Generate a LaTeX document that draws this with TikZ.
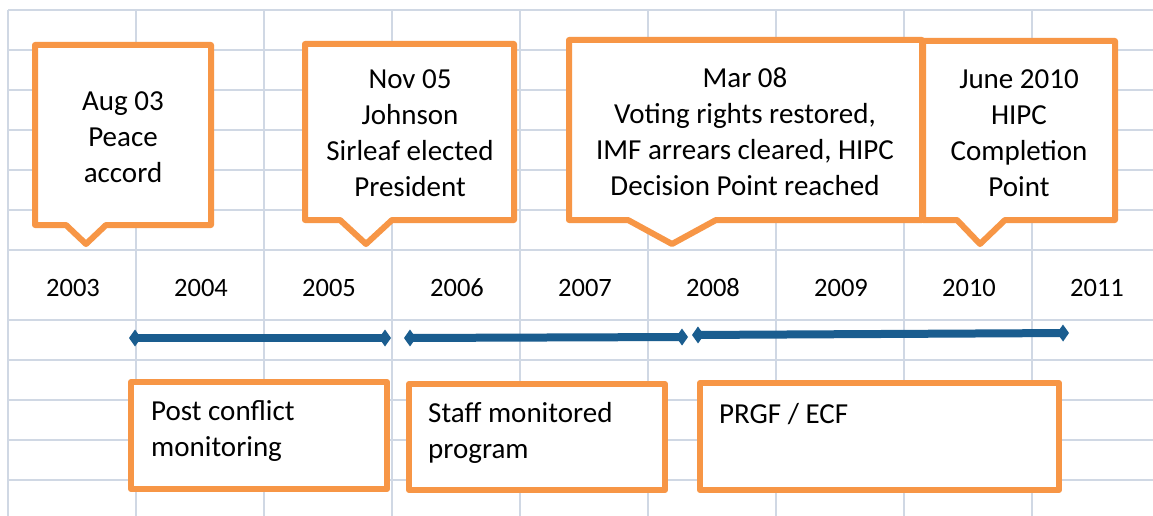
\documentclass[tikz,border=0pt]{standalone}
\usepackage{fontspec}
\setmainfont{Carlito}
\usetikzlibrary{arrows.meta}

\definecolor{gridcol}{HTML}{D0D8E4}
\definecolor{calloutorange}{HTML}{F79646}
\definecolor{spanblue}{HTML}{1A5D8F}

\begin{document}
\begin{tikzpicture}[x=1pt, y=-1pt,
  gridline/.style={gridcol, line width=2pt},
  callout/.style={calloutorange, line width=6pt, line join=round, fill=white},
  span/.style={spanblue, line width=8pt, {Diamond[length=12pt,width=17pt]}-{Diamond[length=12pt,width=17pt]}},
  event/.style={align=center, font=\fontsize{29}{36}\selectfont, inner sep=0pt},
  phase/.style={align=left, anchor=north west, font=\fontsize{29}{36}\selectfont, inner sep=0pt},
  year/.style={font=\fontsize{26.5}{32}\selectfont, inner sep=0pt}]

\useasboundingbox[fill=white] (0,0) rectangle (1153,516);

% grid behind everything
\foreach \i in {0,...,8}
  \draw[gridline] (8+128*\i,10) -- (8+128*\i,516);
\foreach \r in {10,50,90,130,170,210,250,320,360,400,440,480}
  \draw[gridline] (8,\r) -- (1153,\r);

% year row
\foreach \yr [count=\i from 0] in {2003,2004,2005,2006,2007,2008,2009,2010,2011}
  \node[year] (y\yr) at (73+128*\i,288) {\yr};

% callouts
\draw[callout] (35,45) -- (211,45) -- (211,225) -- (106,225) -- (86,244) -- (66,225) -- (35,225) -- cycle;
\node[event] (aug03) at (123,137) {Aug 03\\Peace\\accord};

\draw[callout] (305,44) -- (514,44) -- (514,220) -- (392,220) -- (366,244) -- (340,220) -- (305,220) -- cycle;
\node[event] (nov05) at (410,133) {Nov 05\\Johnson\\Sirleaf elected\\President};

\draw[callout] (569,40) -- (922,40) -- (922,220) -- (716,220) -- (672,244) -- (628,220) -- (569,220) -- cycle;
\node[event] (mar08) at (745,132) {Mar 08\\Voting rights restored,\\IMF arrears cleared, HIPC\\Decision Point reached};

\draw[callout] (923,41) -- (1115,41) -- (1115,220) -- (1005,220) -- (980,244) -- (957,220) -- (923,220) -- cycle;
\node[event] (jun10) at (1019,133) {June 2010\\HIPC\\Completion\\Point};

% programme spans
\coordinate (pcmStart) at (129,338);
\coordinate (pcmEnd) at (391,338);
\coordinate (smpStart) at (404,338);
\coordinate (smpEnd) at (688,337);
\coordinate (ecfStart) at (692,335);
\coordinate (ecfEnd) at (1069,333);
\draw[span] (pcmStart) -- (pcmEnd);
\draw[span] (smpStart) -- (smpEnd);
\draw[span] (ecfStart) -- (ecfEnd);

% programme boxes
\draw[callout] (131,382) rectangle (387,489);
\node[phase] (pcm) at (151,400) {Post conflict\\monitoring};

\draw[callout] (409,384) rectangle (665,490);
\node[phase] (smp) at (428,402) {Staff monitored\\program};

\draw[callout] (700,383) rectangle (1059,490);
\node[phase] (ecf) at (719,403) {PRGF / ECF};

\end{tikzpicture}
\end{document}
